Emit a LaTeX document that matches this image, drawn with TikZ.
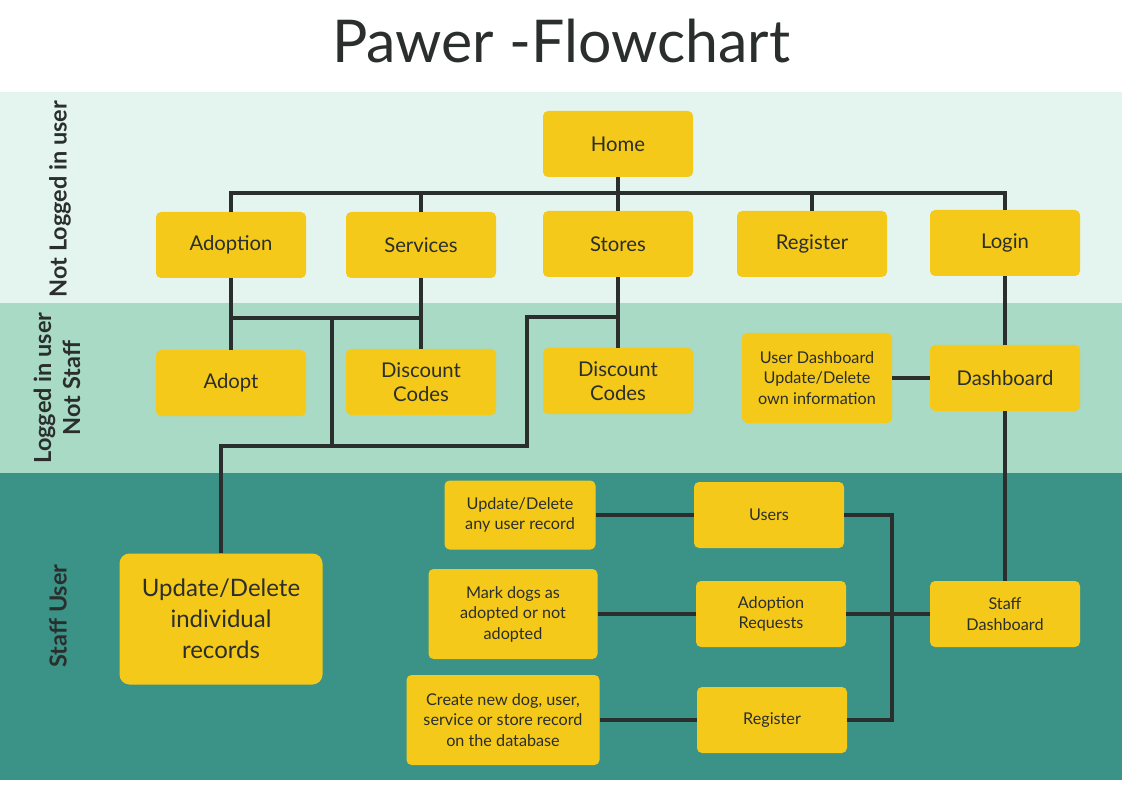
\documentclass[tikz,border=0pt]{standalone}
\usepackage{fontspec}
\setmainfont{Lato}
\usepackage{xcolor}
\definecolor{bandtop}{HTML}{E4F5EF}
\definecolor{bandmid}{HTML}{A8DAC5}
\definecolor{bandlow}{HTML}{3A9386}
\definecolor{boxfill}{HTML}{F5C919}
\definecolor{ink}{HTML}{2A2E2D}

\begin{document}
\begin{tikzpicture}[x=1pt, y=-1pt,
    box/.style={fill=boxfill, rounded corners=5pt, minimum width=150pt, minimum height=66pt,
        align=center, text=ink, font=\fontsize{20.3}{24.5}\selectfont},
    smallbox/.style={box, font=\fontsize{16.2}{20.5}\selectfont},
    link/.style={ink, line width=3.5pt},
    side/.style={rotate=90, align=center, text=ink, font=\bfseries\fontsize{23.5}{29}\selectfont}]
    \useasboundingbox (0,0) rectangle (1122,794);
    % bands
    \fill[bandtop] (0,92) rectangle (1122,303);
    \fill[bandmid] (0,303) rectangle (1122,473);
    \fill[bandlow] (0,473) rectangle (1122,780);
    \node[text=ink, font=\fontsize{59}{66}\selectfont] (title) at (561,41) {Pawer -Flowchart};
    \node[side] (notlogged) at (60,199) {Not Logged in user};
    \node[side] (notstaff) at (57,388) {Logged in user\\Not Staff};
    \node[side] (staffuser) at (58,616) {Staff User};
    % not logged in
    \node[box] (home) at (618,144) {Home};
    \node[box] (adoption) at (231,245) {Adoption};
    \node[box] (services) at (421,245) {Services};
    \node[box] (stores) at (618,244) {Stores};
    \node[box] (register) at (812,244) {Register};
    \node[box] (login) at (1005,243) {Login};
    % logged in
    \node[box] (adopt) at (231,383) {Adopt};
    \node[box] (codes) at (421,382) {Discount\\Codes};
    \node[box] (storecodes) at (618,381) {Discount\\Codes};
    \node[smallbox, minimum height=90pt] (userdash) at (817,378) {User Dashboard\\Update/Delete\\own information};
    \node[box] (dash) at (1005,378) {Dashboard};
    % staff
    \node[box, rounded corners=10pt, minimum width=203pt, minimum height=131pt,
        font=\fontsize{24}{31}\selectfont] (records) at (221,619) {Update/Delete\\individual\\records};
    \node[smallbox, minimum width=151pt, minimum height=69pt] (anyuser) at (520,515) {Update/Delete\\any user record};
    \node[smallbox] (users) at (769,515) {Users};
    \node[smallbox, minimum width=169pt, minimum height=90pt] (markdogs) at (513,614) {Mark dogs as\\adopted or not\\adopted};
    \node[smallbox] (requests) at (771,614) {Adoption\\Requests};
    \node[smallbox, minimum width=193pt, minimum height=90pt] (newrecord) at (503,720) {Create new dog, user,\\service or store record\\on the database};
    \node[smallbox] (staffreg) at (772,720) {Register};
    \node[smallbox] (staffdash) at (1005,614) {Staff\\Dashboard};
    % connectors
    \coordinate (bus) at (618,193);
    \coordinate (fork) at (231,318);
    \coordinate (spine) at (892,614);
    \draw[link] (home) -- (stores);
    \draw[link] (adoption.north) |- (bus) -| (login.north);
    \draw[link] (services.north) -- (services.north |- bus);
    \draw[link] (register.north) -- (register.north |- bus);
    \draw[link] (adoption) -- (adopt);
    \draw[link] (services) -- (codes);
    \draw[link] (fork) -- (services.south |- fork);
    \draw[link] (332,318) -- (332,448);
    \draw[link] (stores) -- (storecodes);
    \draw[link] (618,317) -| (527,446) -| (records.north);
    \draw[link] (login) -- (dash);
    \draw[link] (userdash) -- (dash);
    \draw[link] (dash) -- (staffdash);
    \draw[link] (anyuser) -- (users);
    \draw[link] (markdogs) -- (requests);
    \draw[link] (newrecord) -- (staffreg);
    \draw[link] (users.east) -| (spine) |- (staffreg.east);
    \draw[link] (requests) -- (staffdash);
\end{tikzpicture}
\end{document}
